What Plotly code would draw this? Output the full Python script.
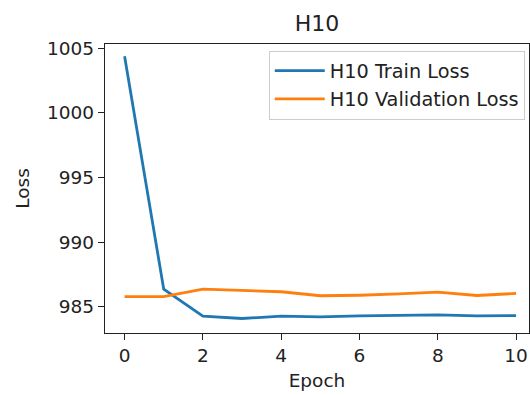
import plotly.graph_objects as go

# Loss history per epoch for the H10 model
epochs = [0, 1, 2, 3, 4, 5, 6, 7, 8, 9, 10]
train_loss = [1004.38, 986.37, 984.28, 984.10, 984.28, 984.22, 984.30, 984.33, 984.38, 984.30, 984.33]
val_loss = [985.80, 985.80, 986.37, 986.27, 986.17, 985.86, 985.90, 986.00, 986.14, 985.88, 986.04]

x_ticks = [0, 2, 4, 6, 8, 10]
y_ticks = [985, 990, 995, 1000, 1005]

font = "DejaVu Sans"
text_color = "#222222"

fig = go.Figure()
fig.add_trace(go.Scatter(x=epochs, y=train_loss, mode="lines", name="H10 Train Loss",
                         line=dict(color="#1f77b4", width=2.8)))
fig.add_trace(go.Scatter(x=epochs, y=val_loss, mode="lines", name="H10 Validation Loss",
                         line=dict(color="#ff7f0e", width=2.8)))

axis_common = dict(showgrid=False, zeroline=False, showline=True, linecolor="#222222",
                   linewidth=1.3, mirror=True, ticks="outside", ticklen=6, tickwidth=1.3,
                   tickcolor="#222222", tickfont=dict(family=font, size=18.5, color=text_color),
                   title_font=dict(family=font, size=18.5, color=text_color))

fig.update_xaxes(range=[-0.5, 10.33], tickvals=x_ticks, title_text="Epoch",
                 title_standoff=8, **axis_common)
fig.update_yaxes(range=[982.98, 1005.33], tickvals=y_ticks, title_text="Loss",
                 title_standoff=12, **axis_common)

fig.update_layout(
    width=530, height=395,
    margin=dict(l=105, r=1, t=44, b=62),
    paper_bgcolor="white", plot_bgcolor="white",
    title=dict(text="H10", x=(105 + 529) / 2 / 530, xanchor="center", y=1 - 23.5 / 395,
               yanchor="middle", font=dict(family=font, size=22, color=text_color)),
    legend=dict(x=0.99, y=0.977, xanchor="right", yanchor="top", itemwidth=50,
                bgcolor="rgba(255,255,255,0.8)", bordercolor="#cccccc", borderwidth=1,
                font=dict(family=font, size=19.3, color=text_color)),
    showlegend=True,
)

fig.write_html("out.html")
